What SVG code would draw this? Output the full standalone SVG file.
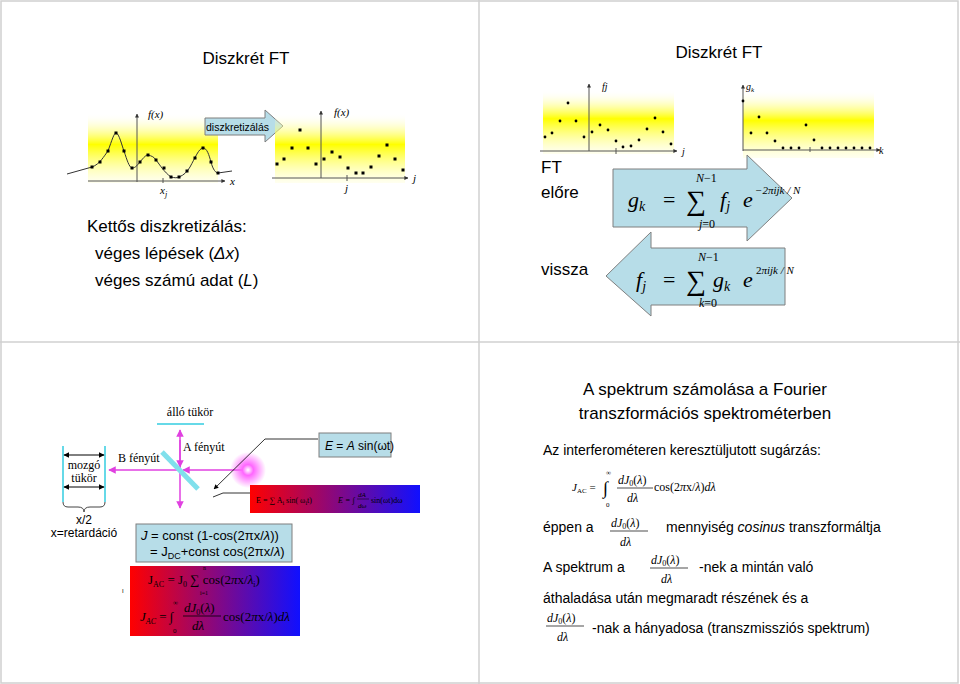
<svg xmlns="http://www.w3.org/2000/svg" width="960" height="684" viewBox="0 0 960 684">
<defs>
<linearGradient id="yel" x1="0" y1="0" x2="0" y2="1"><stop offset="0" stop-color="#fff" stop-opacity="0"/><stop offset="0.45" stop-color="#ffff00"/><stop offset="1" stop-color="#ffffcc" stop-opacity="0.3"/></linearGradient>
<linearGradient id="rb" x1="0" y1="0" x2="1" y2="0"><stop offset="0" stop-color="#ff0000"/><stop offset="1" stop-color="#1010ff"/></linearGradient>
<radialGradient id="glow"><stop offset="0" stop-color="#fff"/><stop offset="0.3" stop-color="#ff66ff"/><stop offset="1" stop-color="#ff66ff" stop-opacity="0"/></radialGradient>
<marker id="ah" viewBox="0 0 10 10" refX="9" refY="5" markerWidth="6" markerHeight="6" orient="auto-start-reverse"><path d="M0,0 L10,5 L0,10z" fill="#000"/></marker>
<marker id="mh" viewBox="0 0 10 10" refX="9" refY="5" markerWidth="5" markerHeight="5" orient="auto-start-reverse"><path d="M0,0 L10,5 L0,10z" fill="#e040e0"/></marker>
<marker id="sa" viewBox="0 0 10 10" refX="9" refY="5" markerWidth="4" markerHeight="4" orient="auto"><path d="M0,0 L10,5 L0,10z" fill="#333"/></marker>
</defs>
<style>
.s{font-family:"Liberation Sans",Arial,sans-serif;fill:#000}
.r{font-family:"Liberation Serif","Times New Roman",serif;fill:#000}
.i{font-style:italic}
.ax{stroke:#555;stroke-width:1}
.dot{fill:#000}
.box{fill:#b7dde8;stroke:#7f7f7f;stroke-width:1}
.mag{stroke:#e040e0;stroke-width:1.5;fill:none}
.cy{stroke:#66d9e8;stroke-width:2}
</style>
<rect x="0" y="0" width="960" height="684" fill="#fff"/>
<g stroke="#d0d0d0" stroke-width="1.5" fill="none"><rect x="1" y="1" width="957" height="682"/><line x1="479" y1="0" x2="479" y2="684"/><line x1="0" y1="342" x2="960" y2="342"/></g>

<g id="tl">
<text class="s" x="246" y="64" font-size="17" text-anchor="middle">Diszkrét FT</text>
<rect x="88" y="113" width="130" height="70" fill="url(#yel)"/>
<line class="ax" x1="137" y1="182" x2="137" y2="114" marker-end="url(#sa)"/>
<line class="ax" x1="88" y1="181" x2="225" y2="181" marker-end="url(#sa)"/>
<line class="ax" x1="163" y1="178" x2="163" y2="183"/>
<text class="r i" x="148" y="118" font-size="11">f(x)</text>
<text class="r i" x="230" y="185" font-size="11">x</text>
<text class="r i" x="160" y="194" font-size="11">x<tspan font-size="8" dy="3">j</tspan></text>
<path d="M67,174 L92,167 C100,164 104,156 108,151 C112,140 114,133 116,133 C119,133 122,146 124,151 C127,160 129,167 132,168 C136,168 138,164 140,162 C144,157 146,155 148,155 C152,156 154,157 156,160 C160,165 164,172 171,177 C175,178 177,178 179,177 C184,175 187,172 190,167 C195,158 199,148 203,148 C207,148 209,155 211,162 C213,170 216,173 218,173 L232,171" fill="none" stroke="#333" stroke-width="1"/>
<g class="dot"><rect x="90.5" y="165.5" width="3" height="3"/><rect x="98.5" y="160.5" width="3" height="3"/><rect x="106.5" y="149.5" width="3" height="3"/><rect x="114.5" y="131.5" width="3" height="3"/><rect x="122.5" y="149.5" width="3" height="3"/><rect x="130.5" y="166.5" width="3" height="3"/><rect x="138.5" y="160.5" width="3" height="3"/><rect x="146.5" y="153.5" width="3" height="3"/><rect x="154.5" y="158.5" width="3" height="3"/><rect x="162.5" y="166.5" width="3" height="3"/><rect x="169.5" y="175.5" width="3" height="3"/><rect x="177.5" y="175.5" width="3" height="3"/><rect x="185.5" y="169.5" width="3" height="3"/><rect x="193.5" y="156.5" width="3" height="3"/><rect x="201.5" y="146.5" width="3" height="3"/><rect x="209.5" y="160.5" width="3" height="3"/><rect x="216.5" y="171.5" width="3" height="3"/></g>
<path class="box" d="M205,118 H265 V110 L283,126 L265,142 V135 H205z"/>
<text class="s" x="206" y="131" font-size="10.5">diszkretizálás</text>
<rect x="275" y="113" width="130" height="70" fill="url(#yel)"/>
<line class="ax" x1="321" y1="178" x2="321" y2="111" marker-end="url(#sa)"/>
<line class="ax" x1="272" y1="178" x2="408" y2="178" marker-end="url(#sa)"/>
<line class="ax" x1="347" y1="175" x2="347" y2="181"/>
<text class="r i" x="334" y="116" font-size="11">f(x)</text>
<text class="r i" x="413" y="182" font-size="11">j</text>
<text class="r i" x="345" y="192" font-size="11">j</text>
<g class="dot"><rect x="275.5" y="162.5" width="3" height="3"/><rect x="282.5" y="157.5" width="3" height="3"/><rect x="290.5" y="146.5" width="3" height="3"/><rect x="298.5" y="128.5" width="3" height="3"/><rect x="306.5" y="146.5" width="3" height="3"/><rect x="314.5" y="162.5" width="3" height="3"/><rect x="322.5" y="157.5" width="3" height="3"/><rect x="330.5" y="150.5" width="3" height="3"/><rect x="338.5" y="155.5" width="3" height="3"/><rect x="346.5" y="166.5" width="3" height="3"/><rect x="354.5" y="171.5" width="3" height="3"/><rect x="361.5" y="171.5" width="3" height="3"/><rect x="369.5" y="165.5" width="3" height="3"/><rect x="377.5" y="154.5" width="3" height="3"/><rect x="385.5" y="143.5" width="3" height="3"/><rect x="393.5" y="157.5" width="3" height="3"/><rect x="401.5" y="168.5" width="3" height="3"/></g>
<text class="s" x="87" y="232" font-size="17">Kettős diszkretizálás:</text>
<text class="s" x="95" y="259" font-size="17">véges lépések  (<tspan class="i">Δx</tspan>)</text>
<text class="s" x="95" y="286" font-size="17">véges számú adat   (<tspan class="i">L</tspan>)</text>
</g>

<g id="tr">
<text class="s" x="719" y="58" font-size="17" text-anchor="middle">Diszkrét FT</text>
<rect x="543" y="90" width="131" height="64" fill="url(#yel)"/>
<line class="ax" x1="589" y1="151" x2="589" y2="84" marker-end="url(#sa)"/>
<line class="ax" x1="540" y1="151" x2="677" y2="151" marker-end="url(#sa)"/>
<line class="ax" x1="616" y1="148" x2="616" y2="154"/>
<text class="r i" x="602" y="90" font-size="10">fj</text>
<text class="r i" x="682" y="155" font-size="10">j</text>
<g class="dot"><circle cx="545" cy="137" r="1.4"/><circle cx="552" cy="133" r="1.4"/><circle cx="560" cy="121" r="1.4"/><circle cx="568" cy="103" r="1.4"/><circle cx="576" cy="121" r="1.4"/><circle cx="584" cy="137" r="1.4"/><circle cx="592" cy="132" r="1.4"/><circle cx="600" cy="125" r="1.4"/><circle cx="608" cy="130" r="1.4"/><circle cx="616" cy="141" r="1.4"/><circle cx="623" cy="147" r="1.4"/><circle cx="631" cy="146" r="1.4"/><circle cx="639" cy="140" r="1.4"/><circle cx="647" cy="129" r="1.4"/><circle cx="655" cy="118" r="1.4"/><circle cx="663" cy="132" r="1.4"/><circle cx="671" cy="144" r="1.4"/></g>
<rect x="743" y="90" width="131" height="68" fill="url(#yel)"/>
<line class="ax" x1="743" y1="151" x2="743" y2="85" marker-end="url(#sa)"/>
<line class="ax" x1="743" y1="150" x2="880" y2="150" marker-end="url(#sa)"/>
<line class="ax" x1="810" y1="147" x2="810" y2="152"/>
<text class="r i" x="746" y="90" font-size="10">g<tspan font-size="7" dy="2">k</tspan></text>
<text class="r i" x="879" y="154" font-size="10">k</text>
<g class="dot"><circle cx="743" cy="101" r="1.4"/><circle cx="751" cy="133" r="1.4"/><circle cx="759" cy="117" r="1.4"/><circle cx="767" cy="133" r="1.4"/><circle cx="775" cy="141" r="1.4"/><circle cx="783" cy="148" r="1.4"/><circle cx="791" cy="148" r="1.4"/><circle cx="799" cy="148" r="1.4"/><circle cx="806" cy="125" r="1.4"/><circle cx="814" cy="140" r="1.4"/><circle cx="822" cy="148" r="1.4"/><circle cx="830" cy="148" r="1.4"/><circle cx="838" cy="148" r="1.4"/><circle cx="846" cy="148" r="1.4"/><circle cx="854" cy="148" r="1.4"/><circle cx="862" cy="148" r="1.4"/><circle cx="870" cy="148" r="1.4"/></g>
<text class="s" x="541" y="173" font-size="17">FT</text>
<text class="s" x="541" y="198" font-size="17">előre</text>
<text class="s" x="541" y="275" font-size="17">vissza</text>
<path class="box" d="M613,169 H747 V155 L792,198 L747,241 V227 H613z"/>
<path class="box" d="M785,248 H651 V232 L606,276 L651,316 V305 H785z"/>
<g class="r i" font-size="22">
<text x="628" y="207">g<tspan font-size="14" dy="4">k</tspan></text>
<text x="663" y="207" font-style="normal">=</text>
<text x="686" y="210" font-size="28" font-style="normal">∑</text>
<text x="696" y="182" font-size="12">N<tspan font-style="normal">−1</tspan></text>
<text x="699" y="228" font-size="12">j<tspan font-style="normal">=0</tspan></text>
<text x="720" y="207">f<tspan font-size="14" dy="4">j</tspan></text>
<text x="743" y="207">e</text>
<text x="755" y="194" font-size="11">−2πijk / N</text>
<text x="636" y="287">f<tspan font-size="14" dy="4">j</tspan></text>
<text x="663" y="287" font-style="normal">=</text>
<text x="686" y="290" font-size="28" font-style="normal">∑</text>
<text x="698" y="261" font-size="12">N<tspan font-style="normal">−1</tspan></text>
<text x="699" y="307" font-size="12">k<tspan font-style="normal">=0</tspan></text>
<text x="713" y="287">g<tspan font-size="14" dy="4">k</tspan></text>
<text x="743" y="287">e</text>
<text x="756" y="274" font-size="11"><tspan font-style="normal">2</tspan>πijk / N</text>
</g>
</g>

<g id="bl">
<text class="r" x="190" y="416" font-size="12" text-anchor="middle">álló tükör</text>
<line class="cy" x1="157" y1="424" x2="204" y2="424"/>
<line class="cy" x1="63" y1="446" x2="63" y2="502"/>
<line class="cy" x1="105" y1="446" x2="105" y2="502"/>
<line x1="64" y1="455" x2="104" y2="455" stroke="#000" marker-start="url(#ah)" marker-end="url(#ah)"/>
<line x1="64" y1="487" x2="104" y2="487" stroke="#000" marker-start="url(#ah)" marker-end="url(#ah)"/>
<text class="r" x="84" y="469" font-size="12" text-anchor="middle">mozgó</text>
<text class="r" x="84" y="482" font-size="12" text-anchor="middle">tükör</text>
<path d="M63,502 q0,5 5,5 h10 q6,0 6,5 q0,-5 6,-5 h10 q5,0 5,-5" fill="none" stroke="#444"/>
<text class="s" x="84" y="524" font-size="12" text-anchor="middle">x/2</text>
<text class="s" x="84" y="537" font-size="12" text-anchor="middle">x=retardáció</text>
<line class="mag" x1="180" y1="470" x2="180" y2="430" marker-end="url(#mh)"/>
<line class="mag" x1="180" y1="440" x2="180" y2="467" marker-end="url(#mh)"/>
<line class="mag" x1="180" y1="470" x2="180" y2="508" marker-end="url(#mh)"/>
<line class="mag" x1="248" y1="470" x2="183" y2="470" marker-end="url(#mh)"/>
<line class="mag" x1="180" y1="470" x2="109" y2="470" marker-end="url(#mh)"/>
<line x1="162" y1="452" x2="198" y2="489" stroke="#80e0ec" stroke-width="5"/>
<circle cx="248" cy="470" r="18" fill="url(#glow)"/>
<text class="r" x="183" y="451" font-size="12">A fényút</text>
<text class="r" x="118" y="462" font-size="12">B fényút</text>
<polyline points="318,439 265,439 214,489" fill="none" stroke="#000" stroke-width="0.8" marker-end="url(#ah)"/>
<polyline points="253,493 223,493 213,497" fill="none" stroke="#000" stroke-width="0.8"/>
<rect class="box" x="319" y="433" width="72" height="24"/>
<text class="s" x="325" y="450" font-size="12"><tspan class="i">E</tspan> = <tspan class="i">A</tspan> sin(ωt)</text>
<rect x="250" y="485" width="170" height="28" fill="url(#rb)"/>
<text class="r" x="256" y="503" font-size="8">E =  ∑ A<tspan font-size="6" dy="2">i</tspan><tspan dy="-2"> sin( ω</tspan><tspan font-size="6" dy="2">i</tspan><tspan dy="-2">t)</tspan></text>
<text class="r i" x="338" y="503" font-size="8">E = ∫ </text>
<text class="r i" x="358" y="497" font-size="7">dA</text>
<line x1="357" y1="499" x2="369" y2="499" stroke="#000" stroke-width="0.5"/>
<text class="r i" x="358" y="508" font-size="7">dω</text>
<text class="r" x="371" y="503" font-size="8">sin(ωt)dω</text>
<rect class="box" x="136" y="524" width="156" height="38"/>
<text class="s" x="141" y="540" font-size="13"><tspan class="i">J</tspan> = const (1-cos(2πx/<tspan class="i">λ</tspan>))</text>
<text class="s" x="150" y="556" font-size="13">= J<tspan font-size="9" dy="3">DC</tspan><tspan dy="-3">+const cos(2πx/</tspan><tspan class="i">λ</tspan>)</text>
<rect x="130" y="566" width="170" height="70" fill="url(#rb)"/>
<text class="r" x="148" y="584" font-size="13">J<tspan font-size="8" dy="3">AC</tspan><tspan dy="-3"> = J</tspan><tspan font-size="8" dy="3">0</tspan><tspan dy="-3"> ∑ cos(2</tspan><tspan class="i">π</tspan>x/<tspan class="i">λ</tspan><tspan font-size="8" dy="3">i</tspan><tspan dy="-3">)</tspan></text>
<text class="r" x="203" y="570" font-size="6">n</text>
<text class="r" x="200" y="595" font-size="6">i=1</text>
<text class="r i" x="140" y="621" font-size="13">J<tspan font-size="8" dy="3">AC</tspan><tspan dy="-3" font-style="normal"> = ∫</tspan></text>
<text class="r" x="173" y="605" font-size="7">∞</text>
<text class="r" x="173" y="633" font-size="7">0</text>
<text class="r i" x="184" y="612" font-size="13">dJ<tspan font-size="8" dy="3" font-style="normal">0</tspan><tspan dy="-3" font-style="normal">(</tspan>λ<tspan font-style="normal">)</tspan></text>
<line x1="183" y1="616" x2="221" y2="616" stroke="#000" stroke-width="0.8"/>
<text class="r i" x="192" y="630" font-size="13">dλ</text>
<text class="r" x="223" y="621" font-size="13">cos(2<tspan class="i">π</tspan>x/<tspan class="i">λ</tspan>)<tspan class="i">dλ</tspan></text>
<text class="s" x="122" y="593" font-size="6">I</text>
</g>

<g id="br">
<text class="s" x="705" y="395" font-size="17" text-anchor="middle">A spektrum számolása a Fourier</text>
<text class="s" x="705" y="419" font-size="17" text-anchor="middle">transzformációs spektrométerben</text>
<text class="s" x="543" y="455" font-size="14">Az interferométeren keresztüljutott sugárzás:</text>
<text class="r i" x="572" y="491" font-size="11">J<tspan font-size="7" dy="2" font-style="normal">AC</tspan><tspan dy="-2" font-style="normal"> = </tspan></text>
<text class="r" x="603" y="494" font-size="18">∫</text>
<text class="r" x="606" y="475" font-size="7">∞</text>
<text class="r" x="606" y="507" font-size="7">0</text>
<text class="r i" x="618" y="484" font-size="12">dJ<tspan font-size="8" dy="2" font-style="normal">0</tspan><tspan dy="-2" font-style="normal">(</tspan>λ<tspan font-style="normal">)</tspan></text>
<line x1="617" y1="488" x2="653" y2="488" stroke="#000" stroke-width="0.7"/>
<text class="r i" x="627" y="502" font-size="12">dλ</text>
<text class="r" x="654" y="491" font-size="12">cos(2<tspan class="i">π</tspan>x/<tspan class="i">λ</tspan>)<tspan class="i">dλ</tspan></text>
<text class="s" x="543" y="532" font-size="14">éppen a</text>
<text class="r i" x="611" y="527" font-size="12">dJ<tspan font-size="8" dy="2" font-style="normal">0</tspan><tspan dy="-2" font-style="normal">(</tspan>λ<tspan font-style="normal">)</tspan></text>
<line x1="610" y1="531" x2="648" y2="531" stroke="#000" stroke-width="0.7"/>
<text class="r i" x="620" y="546" font-size="12">dλ</text>
<text class="s" x="666" y="532" font-size="14">mennyiség <tspan class="i">cosinus</tspan> transzformáltja</text>
<text class="s" x="543" y="572" font-size="14">A spektrum a</text>
<text class="r i" x="651" y="564" font-size="12">dJ<tspan font-size="8" dy="2" font-style="normal">0</tspan><tspan dy="-2" font-style="normal">(</tspan>λ<tspan font-style="normal">)</tspan></text>
<line x1="650" y1="568" x2="688" y2="568" stroke="#000" stroke-width="0.7"/>
<text class="r i" x="661" y="583" font-size="12">dλ</text>
<text class="s" x="699" y="572" font-size="14">-nek a mintán való</text>
<text class="s" x="543" y="603" font-size="14">áthaladása után megmaradt részének és a</text>
<text class="r i" x="547" y="622" font-size="12">dJ<tspan font-size="8" dy="2" font-style="normal">0</tspan><tspan dy="-2" font-style="normal">(</tspan>λ<tspan font-style="normal">)</tspan></text>
<line x1="546" y1="626" x2="584" y2="626" stroke="#000" stroke-width="0.7"/>
<text class="r i" x="557" y="641" font-size="12">dλ</text>
<text class="s" x="592" y="633" font-size="14">-nak a hányadosa (transzmissziós spektrum)</text>
</g>
</svg>
